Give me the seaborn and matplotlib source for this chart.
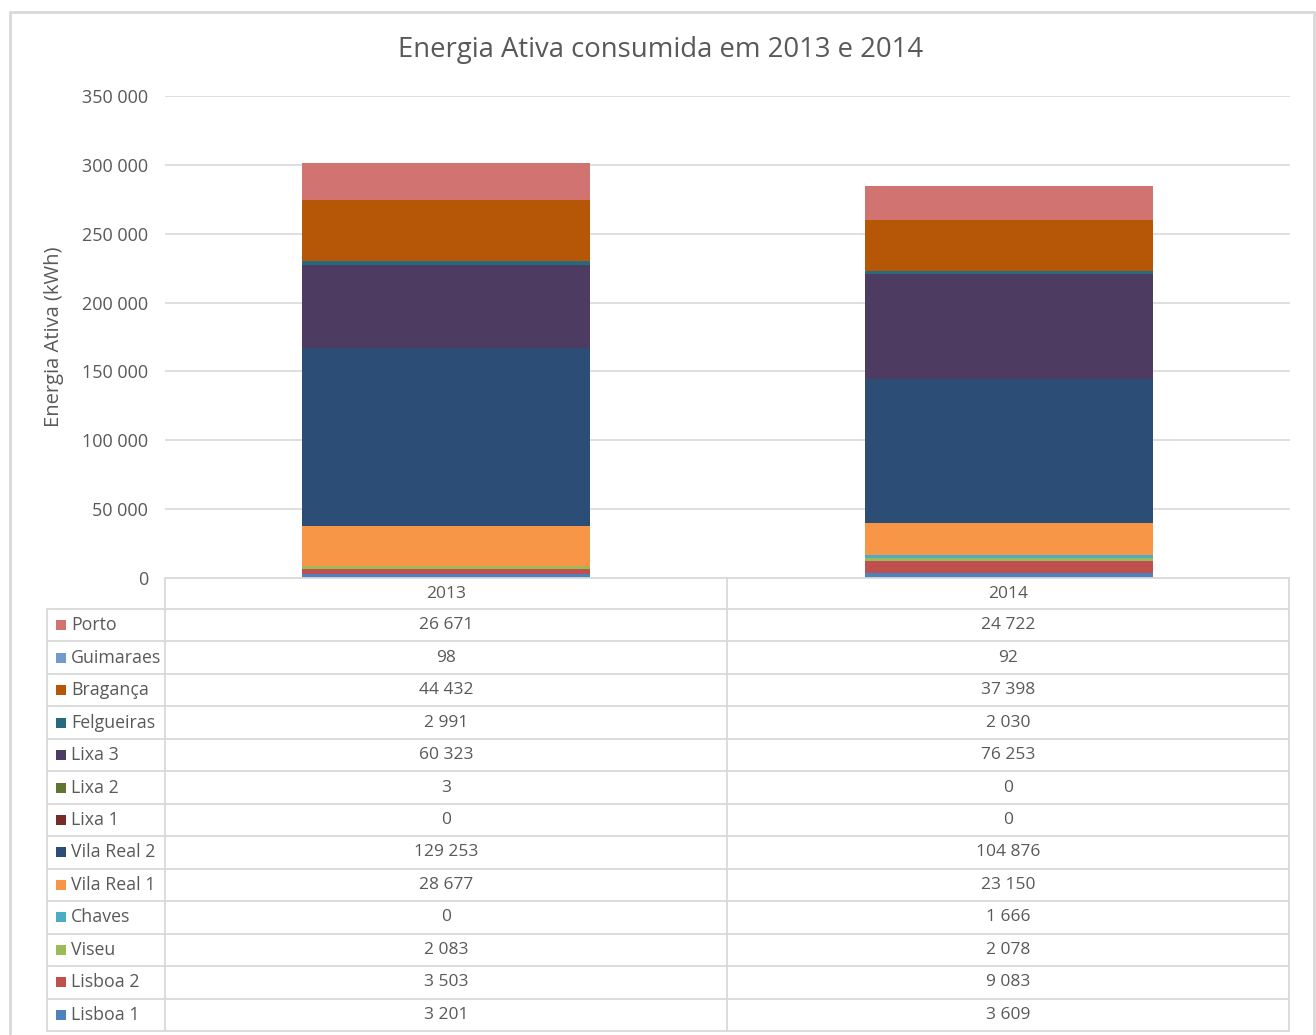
import matplotlib
matplotlib.use("Agg")
import matplotlib.pyplot as plt
import seaborn as sns
import numpy as np
import pandas as pd
from matplotlib.patches import Rectangle
from matplotlib.lines import Line2D

years = ["2013", "2014"]
# series listed bottom to top of stack
series = ["Lisboa 1", "Lisboa 2", "Viseu", "Chaves", "Vila Real 1", "Vila Real 2",
          "Lixa 1", "Lixa 2", "Lixa 3", "Felgueiras", "Bragança", "Guimaraes", "Porto"]
lisboa1 = [3201, 3609]
lisboa2 = [3503, 9083]
viseu = [2083, 2078]
chaves = [0, 1666]
vila_real1 = [28677, 23150]
vila_real2 = [129253, 104876]
lixa1 = [0, 0]
lixa2 = [3, 0]
lixa3 = [60323, 76253]
felgueiras = [2991, 2030]
braganca = [44432, 37398]
guimaraes = [98, 92]
porto = [26671, 24722]
values = [lisboa1, lisboa2, viseu, chaves, vila_real1, vila_real2, lixa1, lixa2,
          lixa3, felgueiras, braganca, guimaraes, porto]
colors = ["#4F81BD", "#C0504D", "#9BBB59", "#4BACC6", "#F79646", "#2C4D75",
          "#772C2A", "#5F7530", "#4D3B62", "#276A7C", "#B65708", "#729ACA", "#D07371"]
yticks = [0, 50000, 100000, 150000, 200000, 250000, 300000, 350000]

sns.set_style("white")
plt.rcParams["font.family"] = ["Open Sans", "DejaVu Sans"]
TXT = "#595959"
GRID = "#D9D9D9"

W, H = 1316, 1035
fig = plt.figure(figsize=(W / 100, H / 100), dpi=100)

def fx(px):
    return px / W

def fy(py):
    return 1 - py / H

# outer border
fig.add_artist(Line2D([fx(10), fx(10)], [fy(12), fy(1040)], color=GRID, lw=2, transform=fig.transFigure))
fig.add_artist(Line2D([fx(10), fx(1314)], [fy(12), fy(12)], color=GRID, lw=2, transform=fig.transFigure))
fig.add_artist(Line2D([fx(1314), fx(1314)], [fy(12), fy(1040)], color=GRID, lw=2, transform=fig.transFigure))

# main axes
L, R, T, B = 165, 1290, 96, 578
ax = fig.add_axes([fx(L), fy(B), fx(R) - fx(L), fy(T) - fy(B)])
bottom = np.zeros(len(years))
for name, vals, c in zip(series, values, colors):
    v = np.array(vals, dtype=float)
    sns.barplot(x=years, y=v, bottom=bottom, color=c, width=0.512, ax=ax,
                saturation=1, edgecolor="none", linewidth=0, zorder=3)
    bottom = bottom + v

ax.set_xlim(-0.5, 1.5)
ax.set_ylim(0, 350000)
ax.set_yticks(yticks)
ax.set_yticklabels([f"{t:,}".replace(",", " ") for t in yticks])
ax.tick_params(axis="y", length=0, pad=12, labelsize=13, labelcolor=TXT)
ax.set_xticks([])
ax.set_xlabel("")
ax.set_ylabel("")
ax.yaxis.grid(True, color=GRID, lw=1.2, zorder=0)
ax.set_axisbelow(True)
for s in ax.spines.values():
    s.set_visible(False)
fig.text(fx(54), fy(337), "Energia Ativa (kWh)", rotation=90, ha="center", va="center",
         fontsize=14.5, color=TXT)
fig.text(fx(661), fy(50), "Energia Ativa consumida em 2013 e 2014", ha="center", va="center",
         fontsize=19.8, color=TXT)

# data table
tax = fig.add_axes([0, 0, 1, 1])
tax.set_xlim(0, W)
tax.set_ylim(H, 0)
tax.axis("off")
tl, c1, c2, tr = 47, 165, 727, 1289
top, hdr_bot, tbot = 578, 609, 1031
nrows = len(series)
rh = (tbot - hdr_bot) / nrows
lc = dict(color=GRID, lw=1.3)
tax.plot([c1, c1], [top, tbot], **lc)
tax.plot([c2, c2], [top, tbot], **lc)
tax.plot([tr, tr], [top, tbot], **lc)
tax.plot([c1, tr], [top, top], **lc)
tax.plot([tl, tl], [hdr_bot, tbot], **lc)
for i in range(nrows + 1):
    y = hdr_bot + i * rh
    tax.plot([tl, tr], [y, y], **lc)
for j, yr in enumerate(years):
    cx = (c1 + c2) / 2 if j == 0 else (c2 + tr) / 2
    tax.text(cx, (top + hdr_bot) / 2 + 1, yr, ha="center", va="center", fontsize=12.5, color=TXT)
order = list(range(nrows))[::-1]
for r, k in enumerate(order):
    yc = hdr_bot + (r + 0.5) * rh
    tax.add_patch(Rectangle((56, yc - 5), 10, 10, color=colors[k], lw=0))
    tax.text(71, yc, series[k], ha="left", va="center", fontsize=12.8, color=TXT)
    for j in range(2):
        cx = (c1 + c2) / 2 if j == 0 else (c2 + tr) / 2
        tax.text(cx, yc, f"{values[k][j]:,}".replace(",", " "), ha="center", va="center",
                 fontsize=12.5, color=TXT)

fig.savefig("out.png", dpi=100)
